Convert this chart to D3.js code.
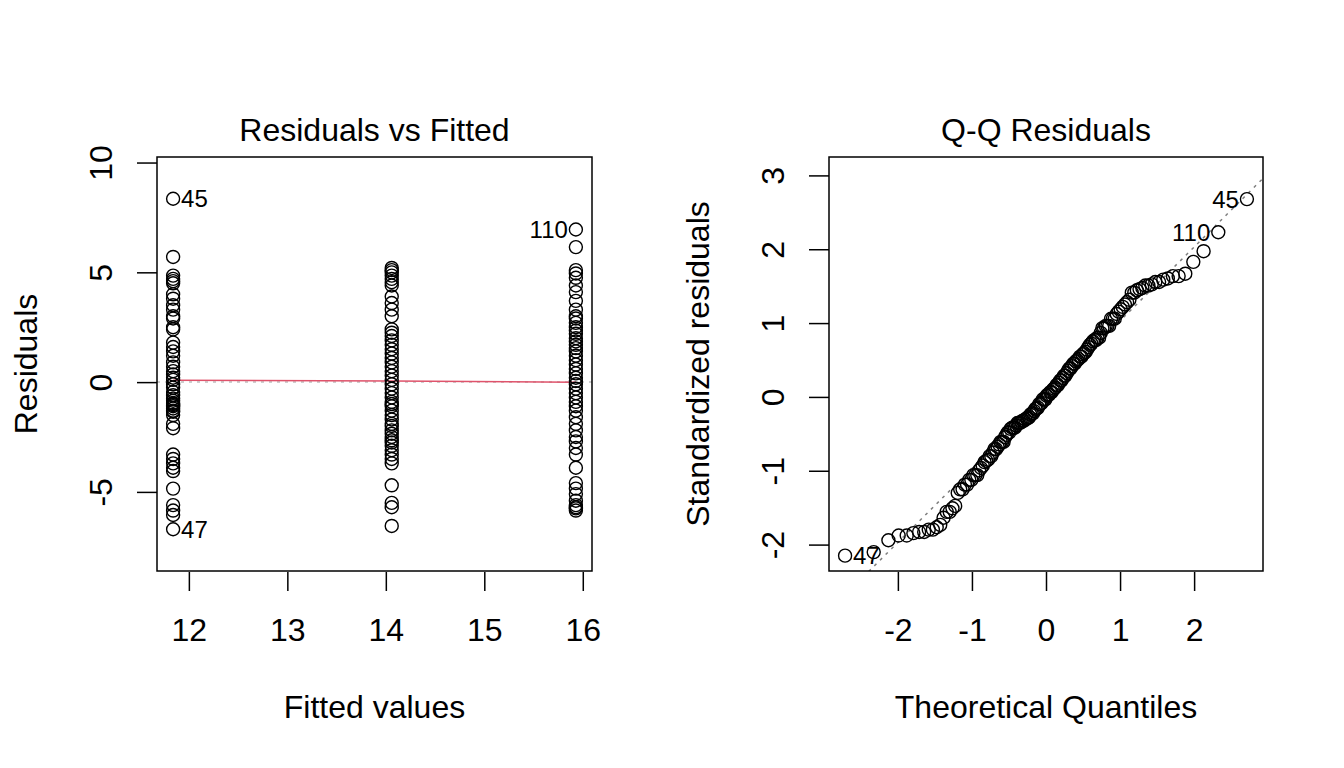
<!DOCTYPE html>
<html>
<head>
<meta charset="utf-8">
<script src="https://cdn.jsdelivr.net/npm/d3@7"></script>
<style>
  html, body { margin: 0; padding: 0; background: #fff; }
  svg { display: block; font-family: "Liberation Sans", Arial, Helvetica, sans-serif; }
</style>
</head>
<body>
<main></main>
<script>
// fitted value of each group (one-way model, 3 groups of 50)
const fitted = [11.84, 14.06, 15.93];

// residuals, one array per group
const residGroup1 = [8.35, 5.70, 4.85, 4.70, 4.60, 4.50, 4.00, 3.80, 3.50, 3.30, 3.00, 2.90, 2.50, 2.40,
  1.80, 1.60, 1.40, 1.20, 0.90, 0.70, 0.50, 0.35, 0.20, 0.10, -0.10, -0.25, -0.45, -0.60, -0.75, -0.85,
  -0.95, -1.00, -1.05, -1.10, -1.20, -1.30, -1.35, -1.50, -1.90, -2.10, -3.30, -3.50, -3.70, -3.90,
  -4.05, -4.85, -5.60, -5.85, -6.05, -6.70];
const residGroup2 = [5.20, 5.10, 5.00, 4.85, 4.70, 4.55, 4.40, 3.90, 3.60, 3.30, 3.00, 2.40, 2.25, 2.10,
  1.90, 1.70, 1.50, 1.30, 1.10, 0.90, 0.70, 0.50, 0.30, 0.10, -0.10, -0.30, -0.50, -0.70, -0.90, -1.00,
  -1.10, -1.30, -1.50, -1.70, -1.90, -2.00, -2.20, -2.35, -2.50, -2.65, -2.75, -2.90, -3.10, -3.30,
  -3.50, -3.70, -4.70, -5.50, -5.70, -6.55];
const residGroup3 = [6.95, 6.15, 5.10, 4.95, 4.75, 4.40, 4.10, 3.70, 3.30, 3.00, 2.90, 2.70, 2.50, 2.35,
  2.20, 2.00, 1.85, 1.70, 1.55, 1.40, 1.20, 1.00, 0.80, 0.60, 0.40, 0.20, 0.05, -0.10, -0.30, -0.50,
  -0.70, -0.90, -1.10, -1.30, -1.60, -1.90, -2.20, -2.50, -2.70, -3.00, -3.30, -3.90, -4.60, -4.85,
  -5.10, -5.40, -5.60, -5.70, -5.75, -5.85];

// labels of the three largest residuals, largest first
const outlierIds = ["45", "110", "47"];

// red smoother through the groups
const smoothResid = [0.09, 0.05, -0.01];

// residual standard error and the Q-Q reference line
const residSE = 3.148;
const qqIntercept = 0.03;
const qqSlope = 1.0;

const leftXTicks = [12, 13, 14, 15, 16];
const leftYTicks = [-5, 0, 5, 10];
const rightXTicks = [-2, -1, 0, 1, 2];
const rightYTicks = [-2, -1, 0, 1, 2, 3];

const W = 1344, H = 768;
const FONT = 32, ID_FONT = 24;
const panels = [
  { left: 157, right: 592, top: 157, bottom: 571 },
  { left: 829, right: 1263, top: 157, bottom: 571 }
];

// inverse normal cdf (Acklam)
const qnorm = (p) => {
  const a = [-3.969683028665376e+01, 2.209460984245205e+02, -2.759285104469687e+02, 1.383577518672690e+02, -3.066479806614716e+01, 2.506628277459239e+00];
  const b = [-5.447609879822406e+01, 1.615858368580409e+02, -1.556989798598866e+02, 6.680131188771972e+01, -1.328068155288572e+01];
  const c = [-7.784894002430293e-03, -3.223964580411365e-01, -2.400758277161838e+00, -2.549732539343734e+00, 4.374664141464968e+00, 2.938163982698783e+00];
  const d = [7.784695709041462e-03, 3.224671290700398e-01, 2.445134137142996e+00, 3.754408661907416e+00];
  const tail = (q) => (((((c[0]*q+c[1])*q+c[2])*q+c[3])*q+c[4])*q+c[5]) / ((((d[0]*q+d[1])*q+d[2])*q+d[3])*q+1);
  if (p < 0.02425) return tail(Math.sqrt(-2 * Math.log(p)));
  if (p > 1 - 0.02425) return -tail(Math.sqrt(-2 * Math.log(1 - p)));
  const q = p - 0.5, r = q * q;
  return (((((a[0]*r+a[1])*r+a[2])*r+a[3])*r+a[4])*r+a[5])*q / (((((b[0]*r+b[1])*r+b[2])*r+b[3])*r+b[4])*r+1);
};

// R style axis range: 4% padding each side
const padRange = (lo, hi) => {
  const p = (hi - lo) * 0.04;
  return [lo - p, hi + p];
};

const groups = [residGroup1, residGroup2, residGroup3];
const points = groups.flatMap((g, i) => g.map(r => ({
  fit: fitted[i],
  r: r,
  rs: r / (residSE * Math.sqrt(1 - 1 / g.length))
})));

// tag the three largest |residual| points
points.slice().sort((a, b) => Math.abs(b.r) - Math.abs(a.r))
  .slice(0, outlierIds.length)
  .forEach((p, i) => { p.id = outlierIds[i]; });

// Q-Q coordinates
const n = points.length;
const sorted = points.slice().sort((a, b) => a.rs - b.rs);
sorted.forEach((p, i) => { p.theo = qnorm((i + 1 - 0.5) / n); });

const svg = d3.select("main")
  .append("svg")
  .attr("width", W)
  .attr("height", H);

const drawPanel = (box, cfg) => {
  const x = d3.scaleLinear().domain(cfg.xDomain).range([box.left, box.right]);
  const y = d3.scaleLinear().domain(cfg.yDomain).range([box.bottom, box.top]);
  const g = svg.append("g");
  const clipId = "clip" + cfg.key;

  g.append("clipPath").attr("id", clipId)
    .append("rect")
    .attr("x", box.left).attr("y", box.top)
    .attr("width", box.right - box.left).attr("height", box.bottom - box.top);

  const inner = g.append("g").attr("clip-path", "url(#" + clipId + ")");
  cfg.drawInner(inner, x, y);

  // points
  g.append("g")
    .selectAll("circle")
    .data(points)
    .enter()
    .append("circle")
    .attr("cx", d => x(cfg.px(d)))
    .attr("cy", d => y(cfg.py(d)))
    .attr("r", 6.5)
    .attr("fill", "none")
    .attr("stroke", "#000")
    .attr("stroke-width", 1.4);

  // id labels
  const xMid = (cfg.xDomain[0] + cfg.xDomain[1]) / 2;
  g.append("g")
    .selectAll("text")
    .data(points.filter(d => d.id))
    .enter()
    .append("text")
    .attr("x", d => x(cfg.px(d)) + (cfg.px(d) > xMid ? -8 : 8))
    .attr("y", d => y(cfg.py(d)))
    .attr("dy", "0.36em")
    .attr("text-anchor", d => cfg.px(d) > xMid ? "end" : "start")
    .style("font-size", ID_FONT + "px")
    .text(d => d.id);

  // box
  g.append("rect")
    .attr("x", box.left).attr("y", box.top)
    .attr("width", box.right - box.left).attr("height", box.bottom - box.top)
    .attr("fill", "none").attr("stroke", "#000").attr("stroke-width", 1.5);

  // x axis
  const xAxis = g.append("g")
    .attr("transform", "translate(0," + (box.bottom + 1) + ")")
    .call(d3.axisBottom(x).tickValues(cfg.xTicks).tickFormat(d => String(d)).tickSize(19).tickSizeOuter(0));
  xAxis.select(".domain").remove();
  xAxis.selectAll("line").attr("stroke-width", 1.5);
  xAxis.selectAll("text")
    .attr("y", 69).attr("dy", 0)
    .attr("fill", "#000")
    .style("font-size", FONT + "px")
    .style("font-family", "inherit");

  // y axis, labels turned like R
  const yAxis = g.append("g")
    .attr("transform", "translate(" + box.left + ",0)")
    .call(d3.axisLeft(y).tickValues(cfg.yTicks).tickFormat(d => String(d)).tickSize(20).tickSizeOuter(0));
  yAxis.select(".domain").remove();
  yAxis.selectAll("line").attr("stroke-width", 1.5);
  yAxis.selectAll("text")
    .attr("x", 0).attr("dy", 0)
    .attr("transform", "translate(-45,0) rotate(-90)")
    .attr("text-anchor", "middle")
    .attr("fill", "#000")
    .style("font-size", FONT + "px")
    .style("font-family", "inherit");

  const cx = (box.left + box.right) / 2;
  const cy = (box.top + box.bottom) / 2;

  g.append("text")
    .attr("x", cx).attr("y", 141)
    .attr("text-anchor", "middle")
    .style("font-size", FONT + "px")
    .text(cfg.title);

  g.append("text")
    .attr("x", cx).attr("y", 718)
    .attr("text-anchor", "middle")
    .style("font-size", FONT + "px")
    .text(cfg.xLabel);

  g.append("text")
    .attr("transform", "translate(" + (box.left - 120) + "," + cy + ") rotate(-90)")
    .attr("text-anchor", "middle")
    .style("font-size", FONT + "px")
    .text(cfg.yLabel);
};

// left: residuals vs fitted
const rExt = d3.extent(points, d => d.r);
const rPad = (rExt[1] - rExt[0]) * 0.08;
drawPanel(panels[0], {
  key: "A",
  title: "Residuals vs Fitted",
  xLabel: "Fitted values",
  yLabel: "Residuals",
  xDomain: padRange(d3.min(fitted), d3.max(fitted)),
  yDomain: padRange(rExt[0] - rPad, rExt[1] + rPad),
  xTicks: leftXTicks,
  yTicks: leftYTicks,
  px: d => d.fit,
  py: d => d.r,
  drawInner: (inner, x, y) => {
    inner.append("line")
      .attr("x1", x.range()[0]).attr("x2", x.range()[1])
      .attr("y1", y(0)).attr("y2", y(0))
      .attr("stroke", "#bebebe").attr("stroke-width", 1.5)
      .attr("stroke-dasharray", "3,5");
    inner.append("path")
      .datum(fitted.map((f, i) => [f, smoothResid[i]]))
      .attr("fill", "none")
      .attr("stroke", "#DF536B")
      .attr("stroke-width", 1.5)
      .attr("d", d3.line().x(d => x(d[0])).y(d => y(d[1])));
  }
});

// right: normal Q-Q of standardized residuals
const sExt = d3.extent(points, d => d.rs);
const qExt = d3.extent(points, d => d.theo);
drawPanel(panels[1], {
  key: "B",
  title: "Q-Q Residuals",
  xLabel: "Theoretical Quantiles",
  yLabel: "Standardized residuals",
  xDomain: padRange(qExt[0], qExt[1]),
  yDomain: padRange(sExt[0], sExt[1] + (sExt[1] - sExt[0]) * 0.075),
  xTicks: rightXTicks,
  yTicks: rightYTicks,
  px: d => d.theo,
  py: d => d.rs,
  drawInner: (inner, x, y) => {
    const [x0, x1] = x.domain();
    inner.append("line")
      .attr("x1", x(x0)).attr("x2", x(x1))
      .attr("y1", y(qqIntercept + qqSlope * x0))
      .attr("y2", y(qqIntercept + qqSlope * x1))
      .attr("stroke", "#7f7f7f").attr("stroke-width", 1.5)
      .attr("stroke-dasharray", "3,5");
  }
});
</script>
</body>
</html>
